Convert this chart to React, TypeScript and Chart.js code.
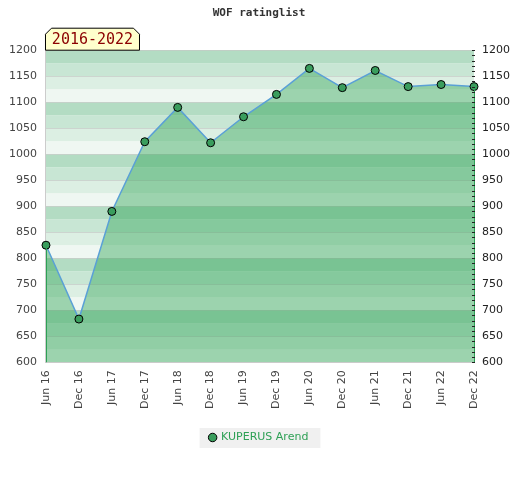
import React, { useEffect, useRef } from "react";
import { Chart, registerables } from "chart.js";

Chart.register(...registerables);

const categories = ["Jun 16", "Dec 16", "Jun 17", "Dec 17", "Jun 18", "Dec 18", "Jun 19", "Dec 19", "Jun 20", "Dec 20", "Jun 21", "Dec 21", "Jun 22", "Dec 22"];
const ratings = [825, 683, 890, 1024, 1090, 1022, 1072, 1115, 1165, 1128, 1161, 1130, 1134, 1130];
const seriesName = "KUPERUS Arend";
const chartTitle = "WOF ratinglist";
const periodLabel = "2016-2022";
const yMin = 600;
const yMax = 1200;
const yStep = 50;

const stripeColors = ["#eff7f2", "#dcefe3", "#c8e6d4", "#b3dcc3"]; // from band bottom to band top

const bgPlugin = {
  id: "bgStripes",
  beforeDraw(chart: any) {
    const { ctx, chartArea } = chart;
    const y = chart.scales.y;
    ctx.save();
    for (let v = yMin; v < yMax; v += 25) {
      const idx = Math.floor(((v % 100) + 100) % 100 / 25);
      const top = y.getPixelForValue(v + 25);
      const bot = y.getPixelForValue(v);
      ctx.fillStyle = stripeColors[idx];
      ctx.fillRect(chartArea.left, top, chartArea.right - chartArea.left, bot - top);
    }
    ctx.restore();
  },
  afterDatasetsDraw(chart: any) {
    const { ctx, chartArea } = chart;
    const meta = chart.getDatasetMeta(0);
    const pts = meta.data;
    ctx.save();
    ctx.strokeStyle = "#2ea055";
    ctx.lineWidth = 1;
    [pts[0], pts[pts.length - 1]].forEach((p: any) => {
      const x = Math.round(p.x) + 0.5;
      ctx.beginPath();
      ctx.moveTo(x, p.y);
      ctx.lineTo(x, chartArea.bottom);
      ctx.stroke();
    });
    // right minor ticks
    const y = chart.scales.y;
    ctx.strokeStyle = "#222";
    for (let v = yMin; v <= yMax; v += 10) {
      const py = Math.round(y.getPixelForValue(v)) + 0.5;
      ctx.beginPath();
      ctx.moveTo(chartArea.right - 2, py);
      ctx.lineTo(chartArea.right + 1, py);
      ctx.stroke();
    }
    ctx.restore();
  },
  afterDraw(chart: any) {
    const { ctx, chartArea } = chart;
    // period label box
    const x0 = chartArea.left - 0.5;
    const x1 = x0 + 94;
    const y1 = chartArea.top;
    const y0 = y1 - 22;
    const c = 6;
    ctx.save();
    ctx.beginPath();
    ctx.moveTo(x0, y1);
    ctx.lineTo(x0, y0 + c);
    ctx.lineTo(x0 + c, y0);
    ctx.lineTo(x1 - c, y0);
    ctx.lineTo(x1, y0 + c);
    ctx.lineTo(x1, y1);
    ctx.closePath();
    ctx.fillStyle = "#ffffcc";
    ctx.fill();
    ctx.strokeStyle = "#000";
    ctx.lineWidth = 1;
    ctx.stroke();
    ctx.fillStyle = "#8b0000";
    ctx.font = "15px 'DejaVu Sans Mono'";
    ctx.textAlign = "center";
    ctx.textBaseline = "middle";
    ctx.fillText(periodLabel, (x0 + x1) / 2, (y0 + y1) / 2 + 1);
    ctx.restore();
  },
};

const legendBgPlugin = {
  id: "legendBg",
  beforeDraw(chart: any) {
    const lg = chart.legend;
    if (!lg || !lg.legendHitBoxes || !lg.legendHitBoxes.length) return;
    const b = lg.legendHitBoxes[0];
    const { ctx } = chart;
    ctx.save();
    ctx.fillStyle = "#f0f0f0";
    ctx.fillRect(b.left - 10, b.top - 4, b.width + 22, b.height + 9);
    ctx.restore();
  },
};

export default function App() {
  const ref = useRef<HTMLCanvasElement>(null);
  useEffect(() => {
    if (!ref.current) return;
    const tickFont = { family: "'DejaVu Sans'", size: 11 };
    const plain = (v: any) => String(v);
    const chart = new Chart(ref.current, {
      type: "line",
      data: {
        labels: categories,
        datasets: [
          {
            label: seriesName,
            data: ratings,
            borderColor: "#5aa0d6",
            borderWidth: 1.5,
            backgroundColor: "rgba(40,160,78,0.41)",
            fill: "start",
            tension: 0,
            pointRadius: 4,
            pointBackgroundColor: "#3a9d5d",
            pointBorderColor: "#000",
            pointBorderWidth: 1,
          },
        ],
      },
      options: {
        animation: false,
        responsive: false,
        devicePixelRatio: 1,
        layout: { padding: { left: 0, right: 2, top: 0, bottom: 27 } },
        scales: {
          x: {
            offset: false,
            grid: { display: false, drawTicks: false },
            border: { color: "#cccccc" },
            ticks: { font: tickFont, color: "#444", minRotation: 90, maxRotation: 90, padding: 8, autoSkip: false },
            afterFit: (s: any) => { s.height += 5; },
          },
          y: {
            min: yMin,
            max: yMax,
            grid: { color: "rgba(190,190,190,0.55)", drawTicks: false },
            border: { color: "#cccccc" },
            ticks: { stepSize: yStep, font: tickFont, color: "#444", padding: 9, callback: plain },
          },
          y2: {
            position: "right",
            min: yMin,
            max: yMax,
            grid: { display: false, drawTicks: false },
            border: { display: false },
            ticks: { stepSize: yStep, font: tickFont, color: "#222", padding: 8, callback: plain },
          },
        },
        plugins: {
          title: {
            display: true,
            text: chartTitle,
            color: "#333",
            font: { family: "'DejaVu Sans Mono'", size: 11, weight: "bold" },
            padding: { top: 7, bottom: 30 },
          },
          legend: {
            position: "bottom",
            labels: {
              usePointStyle: true,
              pointStyle: "circle",
              boxWidth: 6,
              boxHeight: 6,
              color: "#2ea055",
              font: { family: "'DejaVu Sans'", size: 11 },
              padding: 10,
            },
          },
          tooltip: { enabled: false },
        },
      },
      plugins: [bgPlugin, legendBgPlugin],
    } as any);
    return () => chart.destroy();
  }, []);
  return (
    <div style={{ position: "fixed", left: 0, top: 0, width: 520, height: 480, background: "#fff" }}>
      <canvas ref={ref} width={520} height={480} style={{ width: 520, height: 480, display: "block" }} />
    </div>
  );
}
